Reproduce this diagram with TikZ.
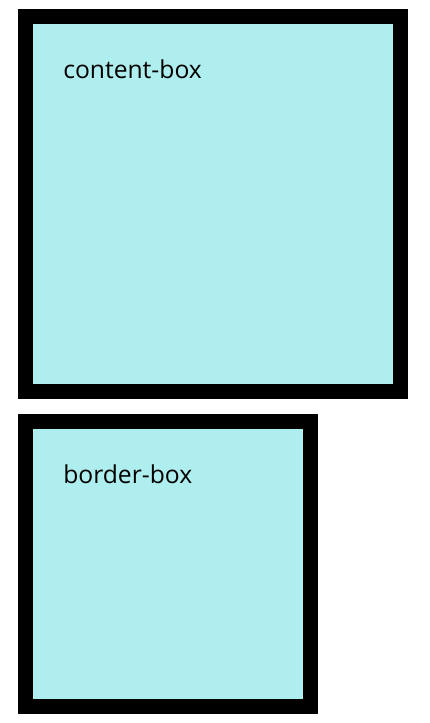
\documentclass[tikz,border=0pt]{standalone}
\usepackage{fontspec}
\setmainfont{Open Sans}
\usetikzlibrary{positioning}
\definecolor{paleturq}{HTML}{AFEEEE}
\tikzset{
  sizedbox/.style={draw=black,fill=paleturq,line width=11.25pt,inner sep=0pt,outer sep=0pt,anchor=north west},
  boxlabel/.style={anchor=base west,inner sep=0pt,font=\fontsize{18.5}{22}\selectfont}
}
\begin{document}
\begin{tikzpicture}[x=0.75pt,y=-0.75pt]
		\useasboundingbox (0,0) rectangle (429,723);
		% content-box: 390 x 390 overall
		\node[sizedbox,minimum width=281.25pt,minimum height=281.25pt] (contentbox) at (25.5,16.5) {};
		% border-box: 300 x 300 overall
		\node[sizedbox,minimum width=213.75pt,minimum height=213.75pt] (borderbox) at (25.5,421.5) {};
		\node[boxlabel] (contentlabel) at (63,79) {content-box};
		\node[boxlabel] (borderlabel) at (63,483) {border-box};
	\end{tikzpicture}
\end{document}
